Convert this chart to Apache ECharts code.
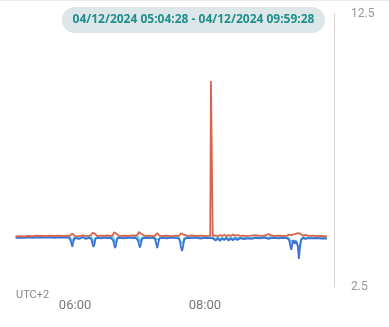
<!DOCTYPE html>
<html><head><meta charset="utf-8">
<script src="https://cdn.jsdelivr.net/npm/echarts@6/dist/echarts.min.js"></script>
<style>html,body{margin:0;padding:0;background:#fff}#c{width:389px;height:327px}</style>
</head><body><div id="c"></div>
<script>
var rangeStart = "05:04:28";
var rangeEnd = "09:59:28";
var rangeLabel = "04/12/2024 05:04:28 - 04/12/2024 09:59:28";
var timezoneLabel = "UTC+2";
var xTickLabels = ["06:00", "08:00"];
var yTickLabels = [2.5, 12.5];
var times = ["05:05","05:09","05:13","05:17","05:21","05:25","05:29","05:33","05:37","05:41","05:45","05:49","05:53","05:55","05:56","05:57:30","05:58","05:59:30","06:01","06:04","06:07","06:10","06:13","06:15","06:16","06:17","06:18","06:19","06:21","06:24","06:27","06:30","06:33","06:35","06:36","06:37","06:38","06:39","06:41","06:45","06:49","06:53","06:56","06:58","06:59","07:00","07:01","07:02","07:05","07:09","07:12","07:14","07:15","07:16","07:17","07:18","07:21","07:25","07:29","07:33","07:36","07:37","07:38","07:39","07:40","07:41","07:44","07:48","07:52","07:56","08:00","08:05","08:05:40","08:06:40","08:07:20","08:10","08:12","08:14","08:16","08:18","08:20","08:22","08:24","08:26","08:28","08:30","08:33","08:36","08:39","08:43","08:47","08:51","08:55","08:59","09:01","09:04","09:08","09:12","09:16","09:18","09:19","09:20","09:21","09:22","09:23","09:24","09:25","09:26","09:27","09:28","09:29","09:31","09:33","09:36","09:40","09:44","09:48","09:51","09:53"];
var redValues = [4.35,4.36,4.35,4.37,4.36,4.38,4.37,4.36,4.38,4.37,4.38,4.37,4.38,4.37,4.42,4.46,4.40,4.37,4.38,4.36,4.39,4.37,4.38,4.40,4.48,4.55,4.46,4.39,4.36,4.38,4.37,4.39,4.37,4.40,4.50,4.55,4.46,4.39,4.36,4.38,4.37,4.39,4.38,4.42,4.52,4.55,4.45,4.38,4.37,4.38,4.36,4.38,4.43,4.48,4.42,4.37,4.37,4.38,4.36,4.38,4.37,4.40,4.47,4.50,4.43,4.38,4.37,4.39,4.37,4.38,4.37,4.38,10.05,10.05,4.37,4.39,4.36,4.40,4.37,4.41,4.36,4.40,4.37,4.42,4.38,4.40,4.37,4.38,4.36,4.38,4.40,4.37,4.38,4.44,4.39,4.37,4.38,4.37,4.38,4.42,4.46,4.40,4.38,4.43,4.48,4.45,4.42,4.47,4.50,4.46,4.42,4.38,4.41,4.37,4.38,4.36,4.37,4.36,4.35];
var blueValues = [4.30,4.31,4.30,4.32,4.30,4.32,4.31,4.31,4.32,4.30,4.32,4.31,4.32,4.28,4.18,3.97,4.10,4.29,4.30,4.26,4.32,4.26,4.30,4.25,4.10,3.97,4.08,4.27,4.30,4.28,4.31,4.29,4.30,4.22,4.08,3.93,4.06,4.27,4.30,4.28,4.31,4.29,4.30,4.22,4.08,3.95,4.10,4.27,4.30,4.29,4.31,4.25,4.10,3.93,4.12,4.28,4.30,4.28,4.31,4.29,4.28,4.18,3.95,3.82,4.02,4.25,4.30,4.29,4.31,4.27,4.30,4.29,4.30,4.30,4.28,4.20,4.28,4.19,4.27,4.22,4.29,4.20,4.27,4.21,4.28,4.22,4.29,4.25,4.28,4.26,4.30,4.28,4.31,4.26,4.29,4.30,4.28,4.30,4.29,4.22,4.02,3.86,4.12,4.22,4.08,4.20,4.12,4.00,3.53,3.95,4.22,4.30,4.26,4.29,4.28,4.29,4.27,4.28,4.27];
var cyanValues = [4.33,4.34,4.33,4.35,4.34,4.35,4.34,4.34,4.35,4.34,4.36,4.35,4.35,4.33,4.28,4.18,4.22,4.32,4.34,4.31,4.35,4.31,4.34,4.33,4.25,4.12,4.20,4.31,4.34,4.32,4.35,4.33,4.34,4.34,4.25,4.12,4.20,4.31,4.34,4.32,4.35,4.33,4.34,4.35,4.25,4.15,4.22,4.32,4.34,4.33,4.34,4.33,4.25,4.18,4.25,4.32,4.34,4.33,4.34,4.33,4.32,4.26,4.10,4.05,4.15,4.30,4.34,4.33,4.34,4.32,4.33,4.33,4.33,4.33,4.31,4.26,4.32,4.25,4.31,4.27,4.32,4.26,4.31,4.27,4.32,4.28,4.32,4.29,4.31,4.30,4.33,4.32,4.34,4.31,4.33,4.33,4.32,4.34,4.33,4.28,4.15,4.08,4.20,4.24,4.10,4.05,4.15,4.08,3.85,4.05,4.25,4.33,4.30,4.32,4.31,4.32,4.30,4.31,4.30];

function toMin(s){var p=s.split(':').map(Number);return p[0]*60+p[1]+(p[2]||0)/60;}
function pairs(vals){return times.map(function(t,i){return [toMin(t), vals[i]];});}
function pad(n){return (n<10?'0':'')+n;}

var chart = echarts.init(document.getElementById('c'), null, {renderer:'canvas'});
chart.setOption({
  animation:false,
  backgroundColor:'#fff',
  grid:{left:15, right:55, top:14, bottom:40},
  xAxis:{
    type:'value', min:toMin(rangeStart), max:toMin(rangeEnd),
    splitLine:{show:false}, axisLine:{show:false}, axisTick:{show:false},
    axisLabel:{customValues:xTickLabels.map(toMin), margin:12, color:'#777', fontSize:13, fontFamily:'Roboto',
      formatter:function(v){var h=Math.floor(v/60), m=Math.round(v%60);return pad(h)+':'+pad(m);}}
  },
  yAxis:{
    type:'value', position:'right', min:yTickLabels[0], max:yTickLabels[1],
    splitLine:{show:false}, axisTick:{show:false},
    axisLine:{show:true, lineStyle:{color:'#d4d4d4', width:1}},
    axisLabel:{customValues:yTickLabels, margin:17, color:'#999', fontSize:12, fontFamily:'Roboto'}
  },
  series:[
    {type:'line', data:pairs(cyanValues), showSymbol:false, lineStyle:{color:'#5cc4de', width:1.8}, z:2},
    {type:'line', data:pairs(blueValues), showSymbol:false, lineStyle:{color:'#3a72d4', width:1.8}, z:3},
    {type:'line', data:pairs(redValues), showSymbol:false, lineStyle:{color:'#d9654f', width:1.8}, z:4}
  ],
  graphic:[
    {type:'line', shape:{x1:0,y1:0.5,x2:389,y2:0.5}, style:{stroke:'#ebebeb', lineWidth:1}},
    {type:'rect', shape:{x:62,y:7,width:263,height:26,r:13}, style:{fill:'#dde6e8'}},
    {type:'text', x:193.5, y:20, style:{text:rangeLabel, fill:'#1e8f8c', font:'bold 12px "Open Sans"', align:'center', verticalAlign:'middle'}},
    {type:'text', x:16, y:295, style:{text:timezoneLabel, fill:'#888', font:'11px Roboto', align:'left', verticalAlign:'middle'}}
  ]
});
</script></body></html>
